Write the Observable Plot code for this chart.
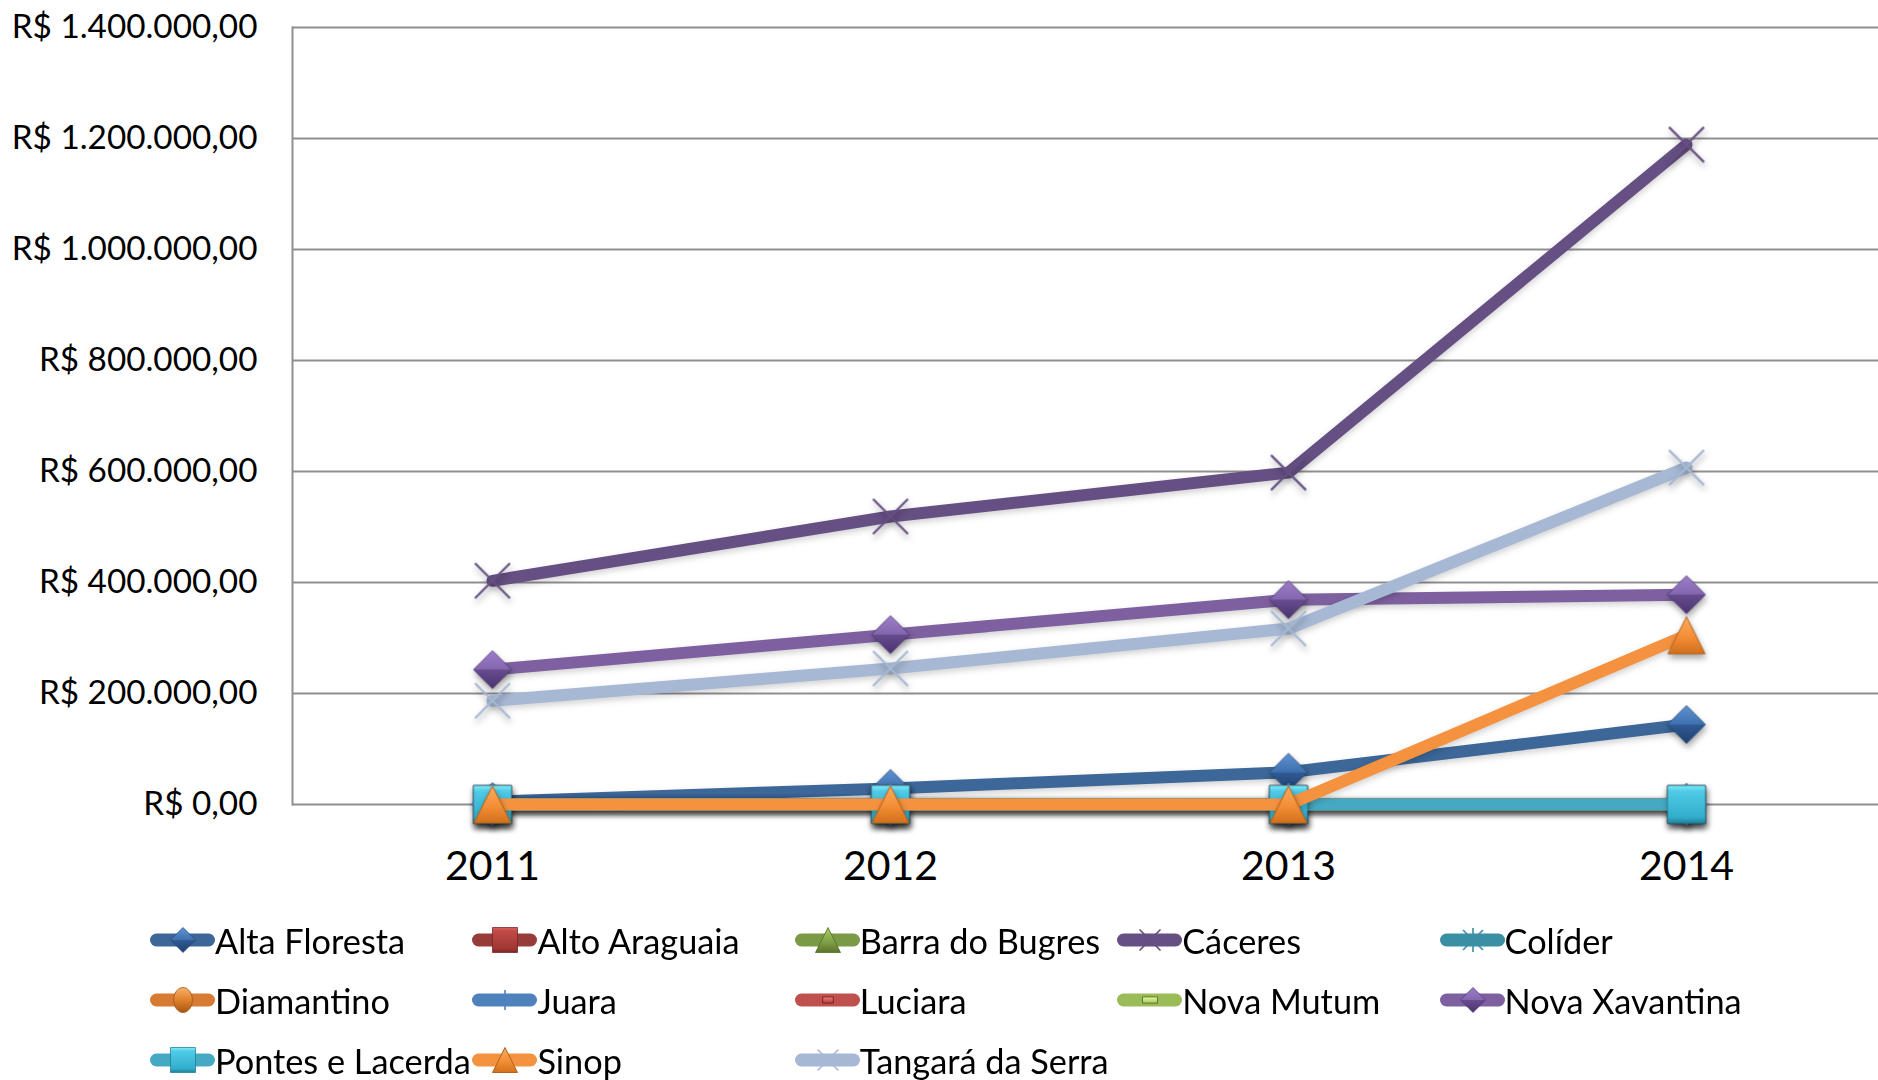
<!DOCTYPE html>
<html>
<head>
<meta charset="utf-8">
<script src="https://cdn.jsdelivr.net/npm/d3@7"></script>
<script src="https://cdn.jsdelivr.net/npm/@observablehq/plot@0.6"></script>
<style>
  html, body { margin: 0; padding: 0; background: #fff; overflow: hidden; width: 1878px; height: 1080px; }
  #chart { position: absolute; left: 0; top: 0; width: 1885px; }
  #legend { position: absolute; left: 0; top: 0; width: 1878px; height: 1080px; }
  .item { position: absolute; display: flex; align-items: center; height: 40px;
          font-family: Lato, "Open Sans", sans-serif; font-size: 34.3px; color: #000; white-space: nowrap; }
  .item svg { display: block; overflow: visible; }
  #chart g[aria-label="dot"] { filter: drop-shadow(1px 4px 3px rgba(0,0,0,0.35)); }
  #chart g[aria-label="line"] { filter: drop-shadow(0px 3px 3px rgba(0,0,0,0.18)); }
</style>
</head>
<body>
<svg width="0" height="0" style="position:absolute"><defs id="defs"></defs></svg>
<div id="chart"></div>
<div id="legend"></div>
<script>
// ---------- DATA ----------
const years = ["2011", "2012", "2013", "2014"];
const seriesNames = [
  "Alta Floresta", "Alto Araguaia", "Barra do Bugres", "Cáceres", "Colíder",
  "Diamantino", "Juara", "Luciara", "Nova Mutum", "Nova Xavantina",
  "Pontes e Lacerda", "Sinop", "Tangará da Serra"
];
const altaFloresta   = [5000, 29000, 58000, 144000];
const altoAraguaia   = [0, 0, 0, 0];
const barraDoBugres  = [0, 0, 0, 0];
const caceres        = [403000, 519000, 598000, 1189000];
const colider        = [0, 0, 0, 0];
const diamantino     = [0, 0, 0, 0];
const juara          = [0, 0, 0, 0];
const luciara        = [0, 0, 0, 0];
const novaMutum      = [0, 0, 0, 0];
const novaXavantina  = [243000, 306000, 369000, 378000];
const pontesLacerda  = [0, 0, 0, 0];
const sinop          = [0, 0, 0, 305000];
const tangara        = [187000, 245000, 317000, 607000];
const yTicks = [0, 200000, 400000, 600000, 800000, 1000000, 1200000, 1400000];

const seriesValues = [altaFloresta, altoAraguaia, barraDoBugres, caceres, colider,
  diamantino, juara, luciara, novaMutum, novaXavantina, pontesLacerda, sinop, tangara];

// ---------- STYLES ----------
const lineColors = ["#3C6798", "#983C39", "#7A9A45", "#654F83", "#3A8FA5",
  "#D77B32", "#4F81BD", "#C0504D", "#9BBB59", "#7E60A0", "#46A9C3", "#F5923F", "#A6B8D4"];

const H = s => Math.sqrt(s / Math.PI);
const symbols = {
  diamond: { draw(c, s) { const h = H(s); c.moveTo(0, -h); c.lineTo(h, 0); c.lineTo(0, h); c.lineTo(-h, 0); c.closePath(); } },
  square: { draw(c, s) { const h = H(s); c.moveTo(-h, -h); c.lineTo(h, -h); c.lineTo(h, h); c.lineTo(-h, h); c.closePath(); } },
  triangle: { draw(c, s) { const h = H(s); c.moveTo(0, -h); c.lineTo(h, h); c.lineTo(-h, h); c.closePath(); } },
  times: { draw(c, s) { const h = H(s); c.moveTo(-h, -h); c.lineTo(h, h); c.moveTo(h, -h); c.lineTo(-h, h); } },
  asterisk: { draw(c, s) { const h = H(s); c.moveTo(-h, -h); c.lineTo(h, h); c.moveTo(h, -h); c.lineTo(-h, h); c.moveTo(0, -h * 1.2); c.lineTo(0, h * 1.2); } },
  ellipse: { draw(c, s) { const h = H(s), rx = h * 0.75, ry = h, k = 0.5523;
      c.moveTo(0, -ry);
      c.bezierCurveTo(k * rx, -ry, rx, -k * ry, rx, 0);
      c.bezierCurveTo(rx, k * ry, k * rx, ry, 0, ry);
      c.bezierCurveTo(-k * rx, ry, -rx, k * ry, -rx, 0);
      c.bezierCurveTo(-rx, -k * ry, -k * rx, -ry, 0, -ry);
      c.closePath(); } },
  plus: { draw(c, s) { const h = H(s); c.moveTo(0, -h); c.lineTo(0, h); c.moveTo(-h, 0); c.lineTo(h, 0); } },
  smallDash: { draw(c, s) { const h = H(s), w = h * 0.42, t = h * 0.25; c.moveTo(-w, -t); c.lineTo(w, -t); c.lineTo(w, t); c.lineTo(-w, t); c.closePath(); } },
  dash: { draw(c, s) { const h = H(s), w = h * 0.6, t = h * 0.25; c.moveTo(-w, -t); c.lineTo(w, -t); c.lineTo(w, t); c.lineTo(-w, t); c.closePath(); } }
};
const markerShapes = ["diamond", "square", "triangle", "times", "asterisk", "ellipse", "plus",
  "smallDash", "dash", "diamond", "square", "triangle", "times"];
const markerR = [19, 19, 18.5, 17.5, 17.5, 19, 21, 19, 19, 19, 19, 18.5, 17.5];
const legendR = [12.5, 12.5, 12.5, 10.5, 10, 12.5, 10, 12.5, 12.5, 12.5, 12.5, 12.5, 10.5];

const gradients = {
  g0: [[0, "#5F93D4"], [0.5, "#3F70AE"], [0.5, "#2F5B94"], [1, "#1F406F"]],
  g1: [[0, "#D9605B"], [0.15, "#C14A46"], [0.85, "#A03633"], [1, "#7A2523"]],
  g2: [[0, "#A9C968"], [0.6, "#7E9E44"], [1, "#5A7428"]],
  g5: [[0, "#F6B06A"], [0.5, "#E0822E"], [1, "#A85410"]],
  g7: [[0, "#F08080"], [1, "#B03A38"]],
  g8: [[0, "#E4F9A0"], [1, "#A6C85C"]],
  g9: [[0, "#9D7DC9"], [0.5, "#8466AF"], [0.5, "#684C91"], [1, "#4B336E"]],
  g10: [[0, "#80ECFC"], [0.16, "#4FCAE6"], [0.84, "#32ADCB"], [1, "#1E7E97"]],
  g11: [[0, "#FBAC5E"], [0.55, "#F48E36"], [1, "#D2701C"]]
};
const markerFills = ["url(#g0)", "url(#g1)", "url(#g2)", "none", "none", "url(#g5)", "none",
  "url(#g7)", "url(#g8)", "url(#g9)", "url(#g10)", "url(#g11)", "none"];
const markerStrokes = ["#244775", "#6E2422", "#4E6A22", "#654F83", "#3A8FA5", "#9A5012", "#4F81BD",
  "#7A2424", "#5E7A28", "#4A3470", "#1F7D96", "#B4621F", "#A6B8D4"];
const markerStrokeWidths = [0.75, 0.75, 0.75, 2.2, 2, 0.75, 2, 1, 1, 0.75, 0.75, 1, 2.2];

// gradient defs
const defs = d3.select("#defs");
for (const [id, stops] of Object.entries(gradients)) {
  const g = defs.append("linearGradient").attr("id", id)
    .attr("x1", 0).attr("y1", 0).attr("x2", 0).attr("y2", 1);
  for (const [o, c] of stops) g.append("stop").attr("offset", o).attr("stop-color", c);
}

// ---------- CHART ----------
const locale = d3.formatLocale({decimal: ",", thousands: ".", grouping: [3], currency: ["R$ ", ""]});
const fmt = locale.format("$,.2f");

const marks = [
  Plot.gridY(yTicks, {stroke: "#8F8F8F", strokeOpacity: 1, strokeWidth: 2}),
  Plot.frame({anchor: "left", stroke: "#8F8F8F", strokeWidth: 2}),
  Plot.axisX({tickSize: 0, tickPadding: 46, fontSize: 41, label: null}),
  Plot.axisY(yTicks, {tickSize: 0, tickPadding: 35, fontSize: 33.3, tickFormat: fmt, label: null})
];

seriesNames.forEach((name, i) => {
  const rows = years.map((yr, j) => ({year: yr, value: seriesValues[i][j], series: name}));
  marks.push(Plot.line(rows, {
    x: "year", y: "value", stroke: lineColors[i], strokeWidth: 12,
    strokeLinecap: "round", strokeLinejoin: "round"
  }));
  marks.push(Plot.dot(rows, {
    x: "year", y: "value", symbol: symbols[markerShapes[i]], r: markerR[i],
    fill: markerFills[i], stroke: markerStrokes[i], strokeWidth: markerStrokeWidths[i]
  }));
});

const chart = Plot.plot({
  width: 1885,
  height: 905,
  marginLeft: 292,
  marginRight: 0,
  marginTop: 27,
  marginBottom: 101,
  style: {fontFamily: "Lato, 'Open Sans', sans-serif", background: "transparent", color: "#000",
          overflow: "visible", maxWidth: "none"},
  x: {type: "point", domain: years, padding: 0.5, align: 0.5},
  y: {domain: [0, 1400000]},
  marks
});
chart.style.maxWidth = "none";
document.getElementById("chart").appendChild(chart);

// ---------- LEGEND ----------
const legend = d3.select("#legend");
seriesNames.forEach((name, i) => {
  const col = i % 5, row = Math.floor(i / 5);
  const item = legend.append("div").attr("class", "item")
    .style("left", (150 + col * 322.4) + "px")
    .style("top", (940 + row * 60 - 20) + "px");
  const sw = item.append("svg").attr("width", 65).attr("height", 40);
  sw.append("line").attr("x1", 6.5).attr("x2", 58.5).attr("y1", 20).attr("y2", 20)
    .attr("stroke", lineColors[i]).attr("stroke-width", 13).attr("stroke-linecap", "round");
  const p = d3.path();
  symbols[markerShapes[i]].draw(p, Math.PI * legendR[i] * legendR[i]);
  sw.append("path").attr("transform", "translate(33,20)").attr("d", p.toString())
    .attr("fill", markerFills[i]).attr("stroke", markerStrokes[i])
    .attr("stroke-width", Math.min(markerStrokeWidths[i], 1.6));
  item.append("span").text(name);
});
</script>
</body>
</html>
